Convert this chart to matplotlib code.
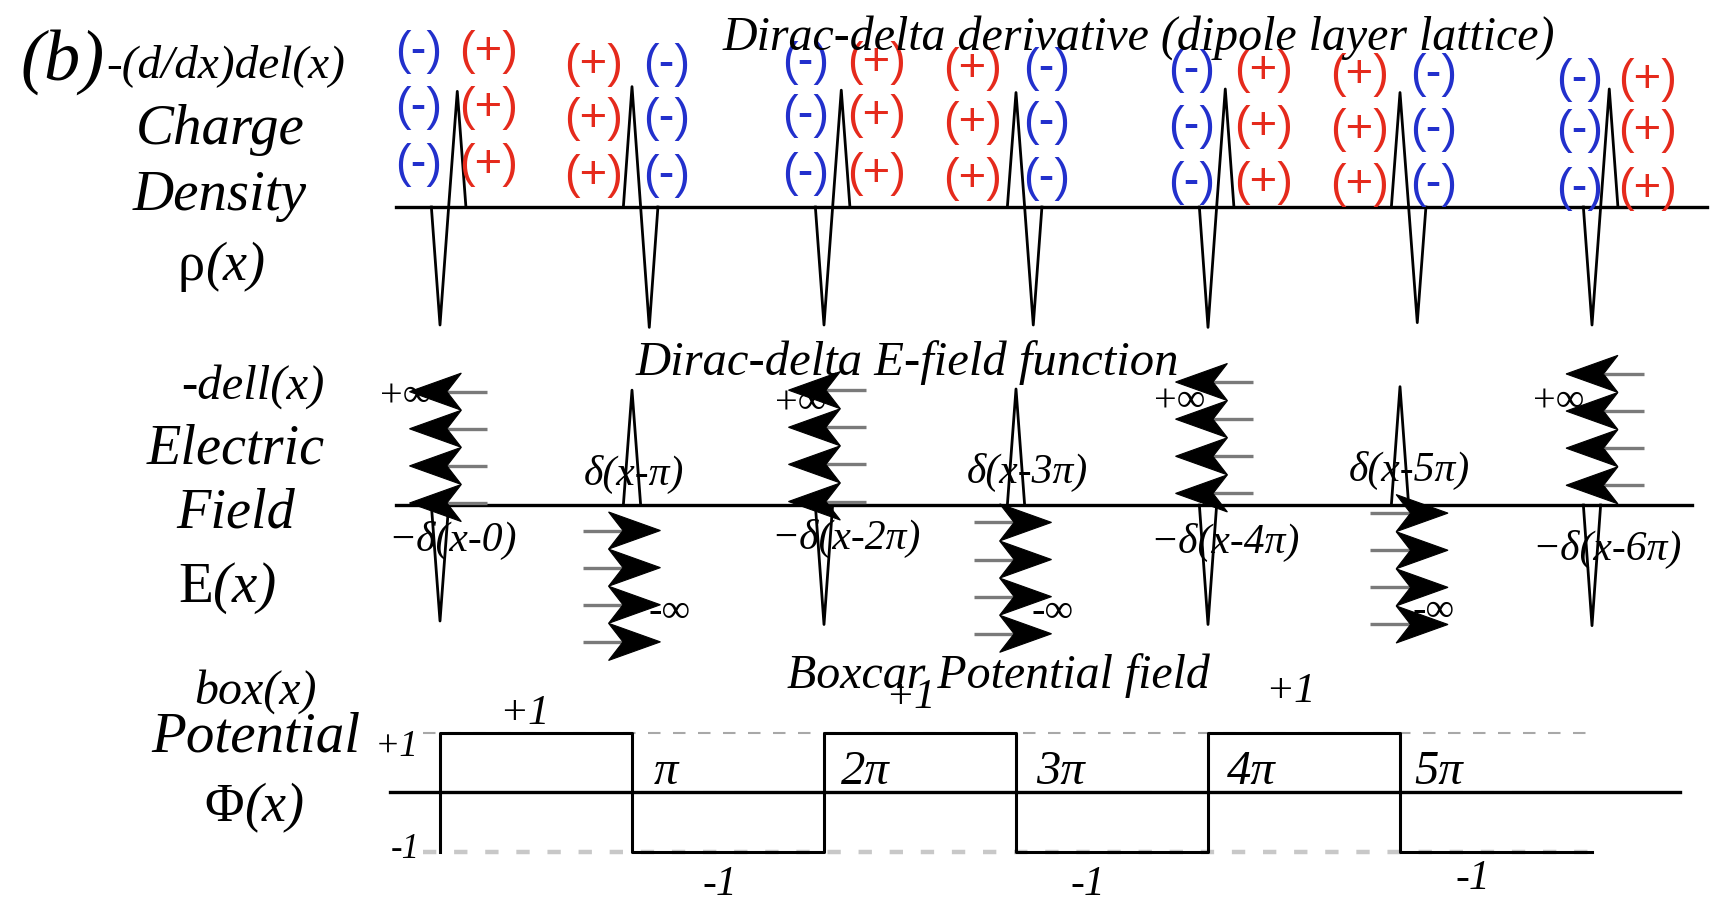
import numpy as np
import matplotlib
matplotlib.use("Agg")
import matplotlib.pyplot as plt
from matplotlib.patches import Polygon

# ---------------- data (x in units of pi) ----------------
layer_pos = [0, 1, 2, 3, 4, 5, 6]
# charge density: spike at x=n and its partner just to the right
rho_first = [-1.0, 1.02, -1.0, 0.97, -1.02, 0.97, -1.0]
rho_second = [0.98, -1.02, 0.99, -1.0, 1.0, -0.98, 1.0]
charge_left = ["-", "+", "-", "+", "-", "+", "-"]
charge_right = ["+", "-", "+", "-", "+", "-", "+"]
charge_left_x = [-0.111, 0.799, 1.904, 2.773, 3.917, 4.788, 5.937]
charge_right_x = [0.255, 1.182, 2.276, 3.161, 4.29, 5.177, 6.29]
charge_rows = [[1.31, 0.84, 0.36], [1.20, 0.75, 0.26], [1.22, 0.77, 0.28],
               [1.17, 0.71, 0.235], [1.15, 0.68, 0.20], [1.12, 0.65, 0.19],
               [1.08, 0.64, 0.15]]

# electric field
e_spike = [-1.0, 0.99, -1.03, 1.0, -1.03, 1.02, -1.04]
e_dir = [-1, 1, -1, 1, -1, 1, -1]
e_notch = [0.036, -0.047, 0.01, -0.01, 0.026, 0.055, 0.06]
e_stack_y = [0.017, -0.22, 0.03, -0.15, 0.10, -0.07, 0.17]
delta_labels = ["\u2212\u03b4(x-0)", "\u03b4(x-\u03c0)", "\u2212\u03b4(x-2\u03c0)", "\u03b4(x-3\u03c0)",
                "\u2212\u03b4(x-4\u03c0)", "\u03b4(x-5\u03c0)", "\u2212\u03b4(x-6\u03c0)"]
delta_label_x = [0.066, 1.01, 2.115, 3.06, 4.09, 5.05, 6.076]
delta_label_y = [-0.31, 0.26, -0.29, 0.28, -0.32, 0.30, -0.38]
pinf_x = [-0.3125, 1.743, 3.718, 5.693]
pinf_y = [0.93, 0.87, 0.89, 0.89]
minf_x = [1.198, 3.19, 5.177]
minf_y = [-0.93, -0.93, -0.92]

# boxcar potential
box_edges = [0, 1, 2, 3, 4, 5, 6]
box_vals = [1, -1, 1, -1, 1, -1]
pi_ticks = ["\u03c0", "2\u03c0", "3\u03c0", "4\u03c0", "5\u03c0"]
pi_tick_x = [1.115, 2.086, 3.104, 4.10, 5.073]
top_one_x = [0.4375, 2.448, 4.43]
top_one_y = [1.31, 1.58, 1.68]
bot_one_x = [1.458, 3.375, 5.38]
bot_one_y = [-1.56, -1.56, -1.46]

# ---------------- layout ----------------
W, H = 1723, 914
X0, SX = 440.0, 192.0          # pixel of x=0 and pixels per pi
fig = plt.figure(figsize=(W / 100, H / 100), dpi=100)
fig.patch.set_facecolor("white")

SERIF = ["Liberation Serif", "DejaVu Serif"]
SANS = ["Liberation Sans", "DejaVu Sans"]


def panel(base_px, unit_px):
    ax = fig.add_axes([0, 0, 1, 1])
    ax.set_xlim(-X0 / SX, (W - X0) / SX)
    ax.set_ylim((base_px - H) / unit_px, base_px / unit_px)
    ax.axis("off")
    ax.patch.set_alpha(0)
    return ax


ax_r = panel(207, 118)
ax_e = panel(505, 116)
ax_p = panel(792, 59.5)

LW = 2.4

# ---------- charge density ----------
ax_r.plot([-0.23, 6.6], [0, 0], color="black", lw=LW, zorder=2)
w = 0.045
for n, a1, a2 in zip(layer_pos, rho_first, rho_second):
    xs = [n - w, n, n + w, n + 2 * w, n + 3 * w]
    ys = [0, a1, 0, a2, 0]
    ax_r.plot(xs, ys, color="black", lw=2.0, zorder=3)
blue, red = "#2230cc", "#e52a1c"
for sl, sr, xl, xr, rows in zip(charge_left, charge_right, charge_left_x,
                                charge_right_x, charge_rows):
    for y in rows:
        ax_r.text(xl, y, f"({sl})", color=blue if sl == "-" else red,
                  family=SANS, fontsize=34, ha="center", va="center", zorder=4)
        ax_r.text(xr, y, f"({sr})", color=blue if sr == "-" else red,
                  family=SANS, fontsize=34, ha="center", va="center", zorder=4)

# ---------- electric field ----------
ax_e.plot([-0.23, 6.52], [0, 0], color="black", lw=LW, zorder=2)
we = 0.045
for n, a in zip(layer_pos, e_spike):
    ax_e.plot([n - we, n, n + we], [0, a, 0], color="black", lw=2.0, zorder=3)

L_TIP, L_BACK, HH, STEP, TAIL = 0.195, 0.075, 0.16, 0.32, 0.21
for n, d, nx, y0 in zip(layer_pos, e_dir, e_notch, e_stack_y):
    xn = n + nx
    for k in range(4):
        yc = y0 + k * STEP if d < 0 else y0 - k * STEP
        ax_e.plot([xn, xn - d * TAIL], [yc, yc], color="#7a7a7a", lw=2.4,
                  zorder=4, solid_capstyle="butt")
        poly = Polygon([[xn + d * L_TIP, yc], [xn - d * L_BACK, yc + HH],
                        [xn, yc], [xn - d * L_BACK, yc - HH]],
                       closed=True, facecolor="black", edgecolor="black",
                       lw=0.8, zorder=5)
        ax_e.add_patch(poly)

for s, x, y in zip(delta_labels, delta_label_x, delta_label_y):
    ax_e.text(x, y, s, family=SERIF, style="italic", fontsize=30,
              ha="center", va="center", zorder=6)
for x, y in zip(pinf_x, pinf_y):
    ax_e.text(x, y, "+\u221e", family=SERIF, fontsize=29, ha="left",
              va="center", zorder=3)
for x, y in zip(minf_x, minf_y):
    ax_e.text(x, y, "-\u221e", family=SERIF, fontsize=29, ha="center",
              va="center", zorder=3)

# ---------- boxcar potential ----------
ax_p.plot([-0.26, 6.46], [0, 0], color="black", lw=LW, zorder=2)
ax_p.plot([-0.09, 6.02], [1, 1], color="#a8a8a8", lw=1.5,
          dashes=(6, 6), zorder=1)
ax_p.plot([-0.09, 6.02], [-1, -1], color="#c8c8c8", lw=3.2,
          dashes=(3, 4), zorder=1)
bx, by = [box_edges[0]], [box_vals[1]]
for i, v in enumerate(box_vals):
    bx += [box_edges[i], box_edges[i + 1]]
    by += [v, v]
ax_p.plot(bx, by, color="black", lw=2.2, zorder=3)

for s, x in zip(pi_ticks, pi_tick_x):
    ax_p.text(x, 0.33, s, family=SERIF, style="italic", fontsize=35,
              ha="left", va="center")
for x, y in zip(top_one_x, top_one_y):
    ax_p.text(x, y, "+1", family=SERIF, style="italic", fontsize=31,
              ha="center", va="center")
for x, y in zip(bot_one_x, bot_one_y):
    ax_p.text(x, y, "-1", family=SERIF, style="italic", fontsize=30,
              ha="center", va="center")
ax_p.text(-0.11, 0.76, "+1", family=SERIF, style="italic", fontsize=27,
          ha="right", va="center")
ax_p.text(-0.105, -0.97, "-1", family=SERIF, style="italic", fontsize=25,
          ha="right", va="center")


# ---------- figure labels ----------
def ftext(px, py, s, size, ha="center", style="italic", **kw):
    fig.text(px / W, 1 - py / H, s, family=SERIF, style=style, fontsize=size,
             ha=ha, va="center", **kw)


ftext(20, 62, "(b)", 52, ha="left")
ftext(106, 66, "-(d/dx)del(x)", 34, ha="left")
ftext(220, 130, "Charge", 41)
ftext(220, 196, "Density", 41)
ftext(205, 267, "\u03c1", 39, ha="right", style="normal")
ftext(205, 267, "(x)", 39, ha="left")
ftext(1139, 38, "Dirac-delta derivative (dipole layer lattice)", 34.5)

ftext(253, 387, "-dell(x)", 35)
ftext(236, 450, "Electric", 40.5)
ftext(236, 514, "Field", 40.5)
ftext(213, 588, "E", 41, ha="right", style="normal")
ftext(213, 588, "(x)", 41, ha="left")
ftext(907, 363, "Dirac-delta E-field function", 35)

ftext(255, 692, "box(x)", 34.5)
ftext(256, 738, "Potential", 41)
ftext(244, 808, "\u03a6", 39, ha="right", style="normal")
ftext(244, 808, "(x)", 39, ha="left")
ftext(998, 676, "Boxcar Potential field", 34.5)

fig.savefig("out.png", dpi=100, facecolor="white")
